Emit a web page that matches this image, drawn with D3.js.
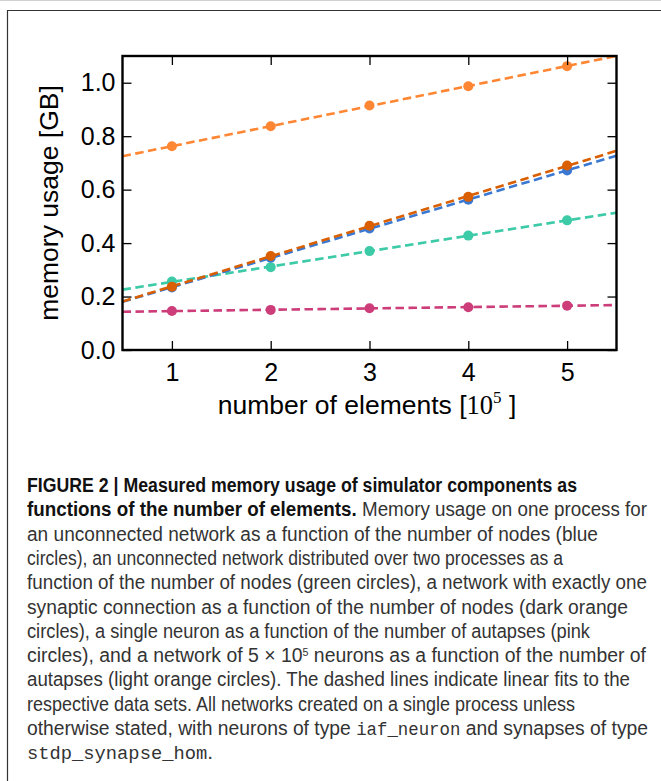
<!DOCTYPE html>
<html>
<head>
<meta charset="utf-8">
<script src="https://cdn.jsdelivr.net/npm/d3@7"></script>
<style>
  body { margin: 0; background: #fff; }
  svg { display: block; }
</style>
</head>
<body>
<div id="chartArea"></div>
<script>
// x values: number of elements in units of 1e5
const xValues = [1, 2, 3, 4, 5];

// memory usage [GB]
const lightOrange = [0.762, 0.837, 0.915, 0.987, 1.062];
const darkOrange  = [0.237, 0.352, 0.465, 0.573, 0.690];
const blue        = [0.234, 0.345, 0.455, 0.562, 0.672];
const green       = [0.256, 0.310, 0.370, 0.428, 0.485];
const pink        = [0.146, 0.150, 0.156, 0.160, 0.166];

const yTicks = [0.0, 0.2, 0.4, 0.6, 0.8, 1.0];
const xTicks = [1, 2, 3, 4, 5];

const series = [
    { name: "pink", values: pink, color: "#cc3d7a" },
    { name: "green", values: green, color: "#3ccaa7" },
    { name: "blue", values: blue, color: "#3a78d2" },
    { name: "darkOrange", values: darkOrange, color: "#d95f02" },
    { name: "lightOrange", values: lightOrange, color: "#ff8633" }
];

// least squares fit, like the dashed lines in the figure
function linFit(xs, ys) {
    const mx = d3.mean(xs), my = d3.mean(ys);
    let num = 0, den = 0;
    xs.forEach((x, i) => { num += (x - mx) * (ys[i] - my); den += (x - mx) * (x - mx); });
    const slope = num / den;
    return x => my + slope * (x - mx);
}

const W = 661, H = 781;
const svg = d3.select("#chartArea").append("svg")
    .attr("width", W).attr("height", H);

// page frame
svg.append("line").attr("x1", 0).attr("x2", W).attr("y1", 0.5).attr("y2", 0.5)
    .attr("stroke", "#d0d0d0").attr("stroke-width", 1);
svg.append("path").attr("d", `M7.5,${H} V10.5 H${W}`)
    .attr("fill", "none").attr("stroke", "#333").attr("stroke-width", 1.2);

const plot = { left: 122.5, top: 56, right: 616.5, bottom: 350 };

const x = d3.scaleLinear().domain([0.5, 5.5]).range([plot.left, plot.right]);
const y = d3.scaleLinear().domain([0, 1.1]).range([plot.bottom, plot.top]);

const tickFont = "'Liberation Sans', Arial, Helvetica, sans-serif";

// fit lines + points
const g = svg.append("g");
series.forEach(s => {
    const f = linFit(xValues, s.values);
    const dom = x.domain();
    g.append("line")
        .attr("x1", x(dom[0])).attr("y1", y(f(dom[0])))
        .attr("x2", x(dom[1])).attr("y2", y(f(dom[1])))
        .attr("stroke", s.color)
        .attr("stroke-width", 2.6)
        .attr("stroke-dasharray", "8.5,4.5");
    g.selectAll(null)
        .data(s.values)
        .enter().append("circle")
        .attr("cx", (d, i) => x(xValues[i]))
        .attr("cy", d => y(d))
        .attr("r", 5)
        .attr("fill", s.color);
});

// axes with inward ticks
svg.append("g")
    .attr("transform", `translate(${plot.left},0)`)
    .call(d3.axisLeft(y).tickValues(yTicks).tickFormat(d3.format(".1f"))
        .tickSizeInner(-9).tickSizeOuter(0).tickPadding(7));
svg.append("g")
    .attr("transform", `translate(0,${plot.bottom})`)
    .call(d3.axisBottom(x).tickValues(xTicks).tickFormat(d3.format("d"))
        .tickSizeInner(-9).tickSizeOuter(0).tickPadding(13));
svg.append("g")
    .attr("transform", `translate(${plot.right},0)`)
    .call(d3.axisRight(y).tickValues(yTicks).tickFormat("").tickSizeInner(-9).tickSizeOuter(0));
svg.append("g")
    .attr("transform", `translate(0,${plot.top})`)
    .call(d3.axisTop(x).tickValues(xTicks).tickFormat("").tickSizeInner(-9).tickSizeOuter(0));

svg.selectAll(".domain").remove();
svg.selectAll(".tick line").attr("stroke", "#000").attr("stroke-width", 1.3);
svg.selectAll(".tick text")
    .style("font-family", tickFont).style("font-size", "25px").attr("fill", "#000");

svg.append("rect")
    .attr("x", plot.left).attr("y", plot.top)
    .attr("width", plot.right - plot.left).attr("height", plot.bottom - plot.top)
    .attr("fill", "none").attr("stroke", "#000").attr("stroke-width", 2.4);

// axis labels
svg.append("text")
    .attr("transform", `translate(58,${(plot.top + plot.bottom) / 2}) rotate(-90)`)
    .attr("text-anchor", "middle")
    .style("font-family", tickFont).style("font-size", "26.5px")
    .text("memory usage [GB]");

const xl = svg.append("text")
    .attr("x", 367).attr("y", 414)
    .attr("text-anchor", "middle")
    .style("font-family", tickFont).style("font-size", "26.5px");
xl.append("tspan").text("number of elements [");
xl.append("tspan").style("font-family", "'Liberation Serif', 'DejaVu Serif', serif").text("10");
xl.append("tspan").style("font-family", "'Liberation Serif', 'DejaVu Serif', serif")
    .style("font-size", "17px").attr("dy", -11).text("5");
xl.append("tspan").attr("dy", 11).text(" ]");

// caption
const capFont = "'Liberation Sans Narrow', 'Arial Narrow', 'Liberation Sans', Arial, sans-serif";
const monoFont = "'Liberation Mono', 'Courier New', monospace";
const captionLines = [
    { w: 550, parts: [["b", "FIGURE 2 | Measured memory usage of simulator components as"]] },
    { w: 620, parts: [["b", "functions of the number of elements."], ["n", " Memory usage on one process for"]] },
    { w: 571, parts: [["n", "an unconnected network as a function of the number of nodes (blue"]] },
    { w: 536, parts: [["n", "circles), an unconnected network distributed over two processes as a"]] },
    { w: 620, parts: [["n", "function of the number of nodes (green circles), a network with exactly one"]] },
    { w: 601, parts: [["n", "synaptic connection as a function of the number of nodes (dark orange"]] },
    { w: 563, parts: [["n", "circles), a single neuron as a function of the number of autapses (pink"]] },
    { w: 619, parts: [["n", "circles), and a network of 5 \u00d7 10"], ["sup", "5"], ["n", " neurons as a function of the number of"]] },
    { w: 603, parts: [["n", "autapses (light orange circles). The dashed lines indicate linear fits to the"]] },
    { w: 548, parts: [["n", "respective data sets. All networks created on a single process unless"]] },
    { w: 621, parts: [["n", "otherwise stated, with neurons of type "], ["m", "iaf_neuron"], ["n", " and synapses of type"]] },
    { w: 186, parts: [["m", "stdp_synapse_hom"], ["n", "."]] }
];

const cap = svg.append("g");
captionLines.forEach((line, i) => {
    const t = cap.append("text")
        .attr("x", 27).attr("y", 492 + i * 24.3)
        .attr("textLength", line.w).attr("lengthAdjust", "spacingAndGlyphs")
        .style("font-family", capFont).style("font-size", "20px").attr("fill", "#333");
    line.parts.forEach(([kind, txt]) => {
        const ts = t.append("tspan").text(txt);
        if (kind === "b") ts.style("font-weight", "bold").attr("fill", "#111");
        if (kind === "m") ts.style("font-family", monoFont).style("font-size", "18px");
        if (kind === "sup") ts.style("font-size", "11px").attr("baseline-shift", "6");
    });
});
</script>
</body>
</html>
